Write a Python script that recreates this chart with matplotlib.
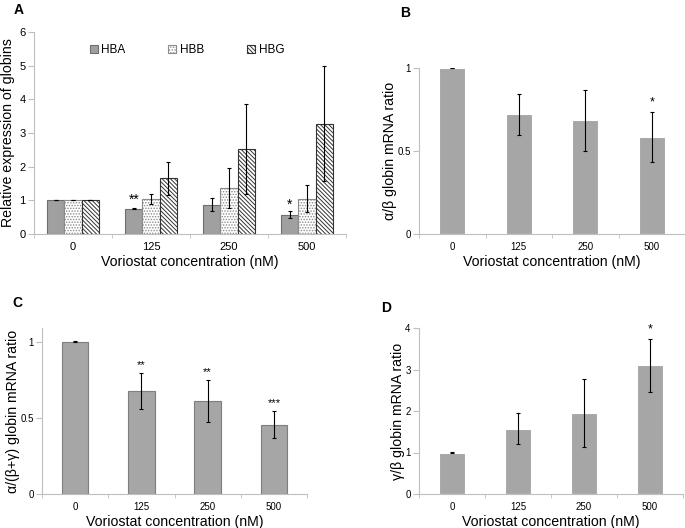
import numpy as np
import matplotlib
matplotlib.use("Agg")
import matplotlib.pyplot as plt

plt.rcParams["font.family"] = ["Liberation Sans", "DejaVu Sans"]
plt.rcParams["hatch.linewidth"] = 0.7

conc = ["0", "125", "250", "500"]

# panel A: relative expression
hba = [1.0, 0.75, 0.87, 0.57]
hba_err = [0.0, 0.02, 0.2, 0.1]
hbb = [1.0, 1.05, 1.37, 1.05]
hbb_err = [0.0, 0.15, 0.6, 0.4]
hbg = [1.0, 1.65, 2.53, 3.28]
hbg_err = [0.0, 0.5, 1.33, 1.72]

# panel B: alpha/beta
ab = [1.0, 0.72, 0.685, 0.585]
ab_err = [0.003, 0.125, 0.185, 0.15]
ab_stars = ["", "", "", "*"]

# panel C: alpha/(beta+gamma)
abg = [1.0, 0.675, 0.61, 0.455]
abg_err = [0.003, 0.117, 0.137, 0.088]
abg_stars = ["", "**", "**", "***"]

# panel D: gamma/beta
gb = [1.0, 1.57, 1.96, 3.1]
gb_err = [0.01, 0.37, 0.82, 0.64]
gb_stars = ["", "", "", "*"]

W, H = 685, 528
fig = plt.figure(figsize=(W / 100, H / 100), dpi=100)
spine_col = "#bfbfbf"
bar_col = "#a6a6a6"


def px_axes(left, top, right, bottom):
    return fig.add_axes([left / W, 1 - bottom / H, (right - left) / W, (bottom - top) / H])


def style(ax, tick_fs):
    for s in ["top", "right"]:
        ax.spines[s].set_visible(False)
    for s in ["left", "bottom"]:
        ax.spines[s].set_color(spine_col)
        ax.spines[s].set_linewidth(0.8)
    x = np.arange(len(conc))
    ax.set_xlim(-0.5, len(conc) - 0.5)
    ax.set_xticks(x)
    ax.set_xticklabels(conc, fontsize=tick_fs)
    ax.tick_params(axis="x", length=0, pad=6)
    ax.set_xticks(np.arange(len(conc) + 1) - 0.5, minor=True)
    ax.tick_params(axis="x", which="minor", length=3, color=spine_col)
    ax.tick_params(axis="y", length=4, color=spine_col, labelsize=tick_fs, pad=2)
    ax.set_xlabel("Voriostat concentration (nM)", fontsize=10.2, labelpad=2)


# ---- A ----
axA = px_axes(34, 32, 346, 234)
x = np.arange(len(conc))
bw = 0.22
ekw = dict(elinewidth=0.8, capsize=1.5, capthick=0.8, ecolor="black")
axA.bar(x - bw, hba, bw, yerr=hba_err, color="#a0a0a0", edgecolor="#6e6e6e",
        linewidth=0.8, label="HBA", error_kw=ekw)
axA.bar(x, hbb, bw, yerr=hbb_err, color="white", edgecolor="#8a8a8a", hatch="......",
        linewidth=0.8, label="HBB", error_kw=ekw)
axA.bar(x + bw, hbg, bw, yerr=hbg_err, color="white", edgecolor="#333333",
        hatch="\\\\\\\\\\\\\\\\", linewidth=0.8, label="HBG", error_kw=ekw)
axA.set_ylim(0, 6)
axA.set_yticks(range(7))
style(axA, 8)
axA.set_ylabel("Relative expression of globins", fontsize=10.2, labelpad=3)
axA.text(1 - bw, 0.82, "**", ha="center", va="bottom", fontsize=10)
axA.text(3 - bw, 0.66, "*", ha="center", va="bottom", fontsize=10)
axA.legend(loc="center", bbox_to_anchor=(0.49, 0.91), ncol=3, frameon=False,
           fontsize=8.5, handlelength=0.7, handleheight=0.7, handletextpad=0.3,
           columnspacing=3.6)
fig.text(14 / W, 1 - 10 / H, "A", fontsize=10, fontweight="bold", va="center", ha="left")


def simple_panel(ax, vals, errs, stars, ylim, yticks, ylabel, edge, tick_fs, star_fs, bwid):
    ax.bar(x, vals, bwid, yerr=errs, color=bar_col, edgecolor=edge, linewidth=0.8,
           error_kw=dict(elinewidth=0.8, capsize=1.5, capthick=0.8, ecolor="black"))
    ax.set_ylim(*ylim)
    ax.set_yticks(yticks)
    ax.set_yticklabels([f"{t:g}" for t in yticks])
    style(ax, tick_fs)
    ax.set_ylabel(ylabel, fontsize=10.2, labelpad=0.5)
    for i, s in enumerate(stars):
        if s:
            ax.text(i, vals[i] + errs[i] + 0.02 * (ylim[1] - ylim[0]), s, ha="center",
                    va="bottom", fontsize=star_fs)


# ---- B ----
axB = px_axes(419, 68, 685, 234)
simple_panel(axB, ab, ab_err, ab_stars, (0, 1), [0, 0.5, 1], "α/β globin mRNA ratio",
             "white", 7, 9, 0.39)
fig.text(400 / W, 1 - 13 / H, "B", fontsize=10, fontweight="bold", va="center", ha="left")

# ---- C ----
axC = px_axes(42, 328, 307, 494)
simple_panel(axC, abg, abg_err, abg_stars, (0, 1.09), [0, 0.5, 1], "α/(β+γ) globin mRNA ratio",
             "#7f7f7f", 7, 8, 0.4)
fig.text(12 / W, 1 - 303 / H, "C", fontsize=10, fontweight="bold", va="center", ha="left")

# ---- D ----
axD = px_axes(419, 328, 683, 494)
simple_panel(axD, gb, gb_err, gb_stars, (0, 4), [0, 1, 2, 3, 4], "γ/β globin mRNA ratio",
             "white", 7, 9, 0.39)
fig.text(381 / W, 1 - 308 / H, "D", fontsize=10, fontweight="bold", va="center", ha="left")

fig.savefig("out.png", dpi=100)
